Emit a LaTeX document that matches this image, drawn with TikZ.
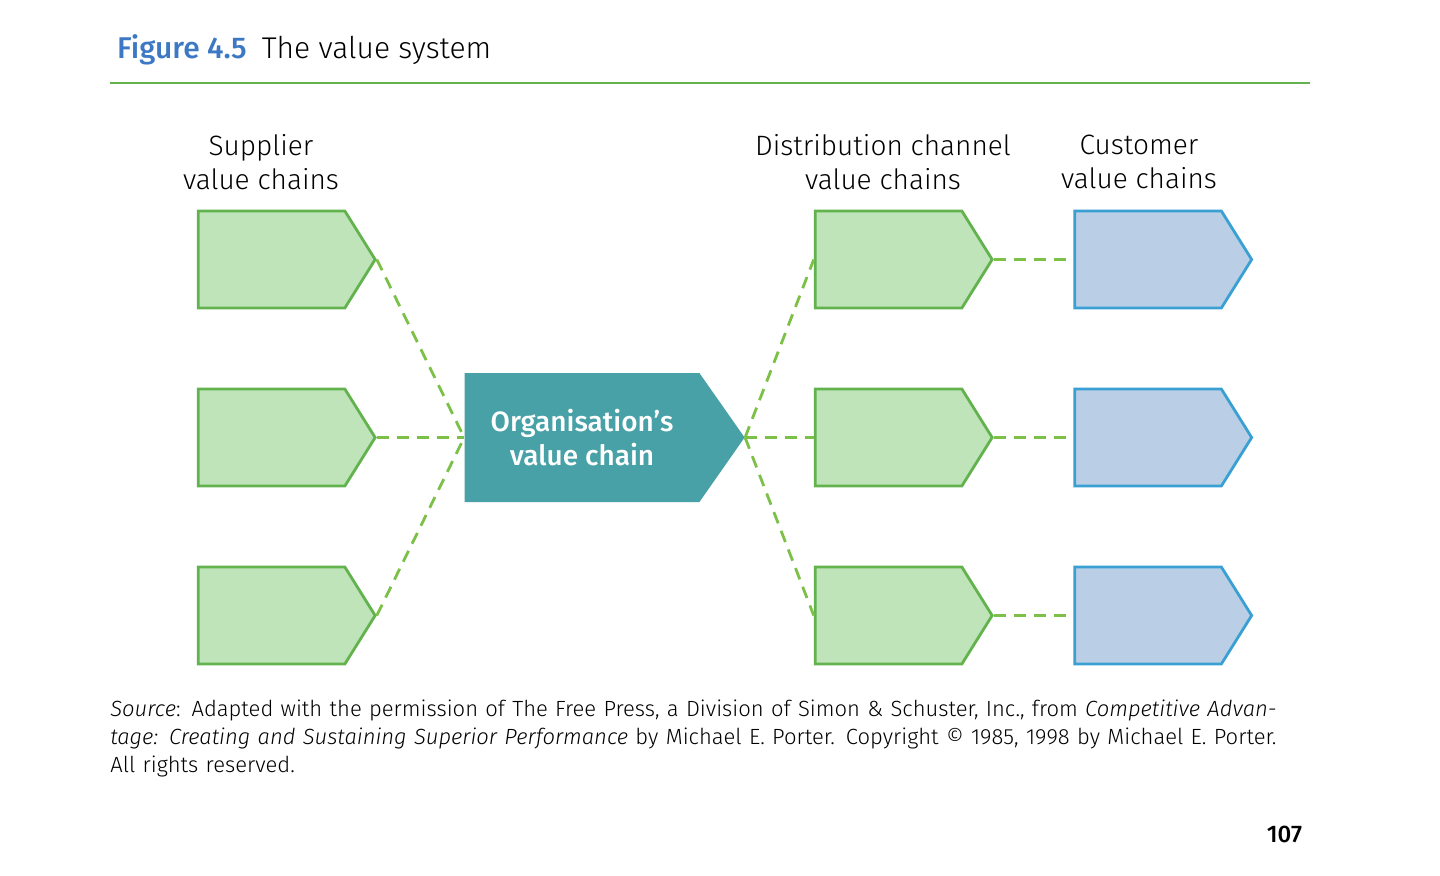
\documentclass[tikz,border=0pt]{standalone}
\usepackage{fontspec}
\setmainfont{Fira Sans Light}[BoldFont=Fira Sans Medium]
\usetikzlibrary{shapes.symbols}
\definecolor{gfill}{RGB}{191,228,186}
\definecolor{gline}{RGB}{98,178,78}
\definecolor{bfill}{RGB}{186,207,230}
\definecolor{bline}{RGB}{58,160,212}
\definecolor{orgteal}{RGB}{72,161,166}
\definecolor{linkgreen}{RGB}{125,192,72}
\definecolor{titleblue}{RGB}{60,120,195}
\begin{document}
\begin{tikzpicture}[x=0.5pt, y=-0.5pt,
  chain/.style={signal, signal to=east, signal pointer angle=116, draw,
    line width=1.4pt, minimum width=88.5pt, minimum height=48.5pt, inner sep=0pt},
  supp/.style={chain, fill=gfill, draw=gline},
  cust/.style={chain, fill=bfill, draw=bline},
  link/.style={linkgreen, line width=1.4pt, dash pattern=on 6pt off 4pt},
  lab/.style={align=center, font=\fontsize{14}{17}\selectfont}]

  \useasboundingbox (0,0) rectangle (1440,875);

  % title
  \node[anchor=base west, font=\fontsize{15}{18}\selectfont] (title) at (110,58)
    {\textcolor{titleblue}{\bfseries Figure 4.5}\enspace The value system};
  \draw[gline, line width=0.8pt] (110,83) -- (1310,83);

  % headings
  \node[lab] (hsupp) at (261,162) {Supplier\\value chains};
  \node[lab] (hdist) at (883,162) {Distribution channel\\value chains};
  \node[lab] (hcust) at (1139,162) {Customer\\value chains};

  % chains
  \foreach \r/\y in {1/259.5, 2/437.5, 3/615.5} {
    \node[supp] (s\r) at (271.5,\y) {};
    \node[supp] (d\r) at (888.5,\y) {};
    \node[cust] (c\r) at (1148,\y) {};
  }
  \node[signal, signal to=east, signal pointer angle=110, fill=orgteal,
    minimum width=140pt, minimum height=64.5pt, inner sep=0pt, text=white,
    align=center, font=\bfseries\fontsize{14}{17}\selectfont] (org) at (582,437.5)
    {Organisation’s\\value chain};

  % links
  \foreach \r in {1,2,3} {
    \draw[link] (s\r.east) -- (org.west);
    \draw[link] (org.east) -- (d\r.west);
    \draw[link] (d\r.east) -- (c\r.west);
  }

  % source
  \node[anchor=north west, text width=595pt, align=left,
    font=\fontsize{11}{14}\selectfont, inner sep=0pt] (src) at (110,700)
    {\textit{Source}: Adapted with the permission of The Free Press, a Division of Simon \& Schuster, Inc., from \textit{Competitive Advan-\\tage: Creating and Sustaining Superior Performance} by Michael E. Porter. Copyright © 1985, 1998 by Michael E. Porter.\\All rights reserved.};
  \node[anchor=base east, font=\bfseries\fontsize{12}{14}\selectfont] (page) at (1309,842) {107};
\end{tikzpicture}
\end{document}
